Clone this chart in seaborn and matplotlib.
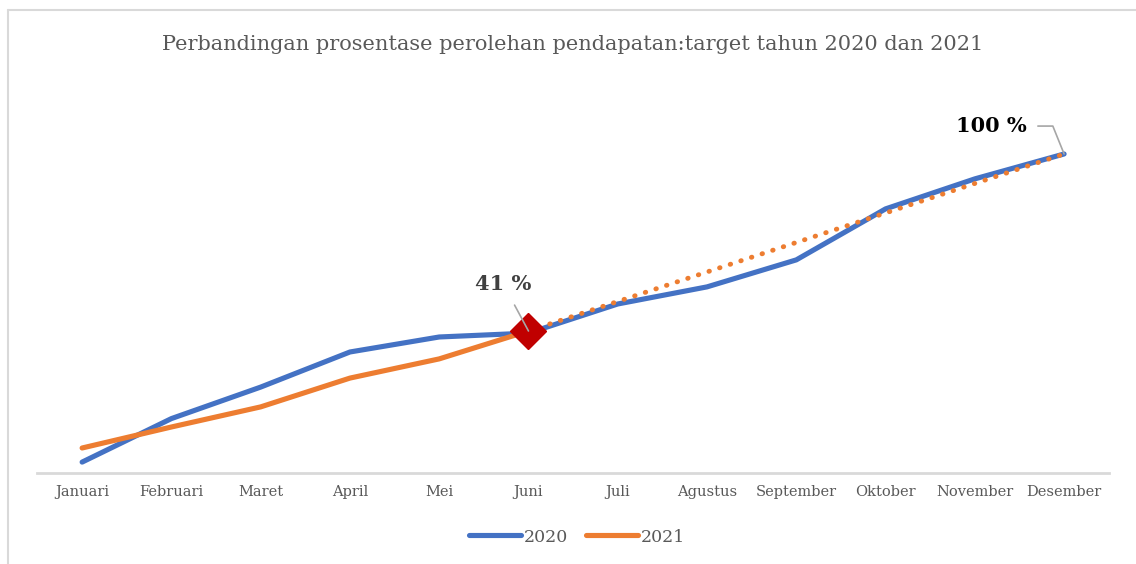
import numpy as np
import pandas as pd
import seaborn as sns
import matplotlib.pyplot as plt
from matplotlib.lines import Line2D

# data (percent of yearly target, cumulative)
months = ["Januari", "Februari", "Maret", "April", "Mei", "Juni", "Juli",
          "Agustus", "September", "Oktober", "November", "Desember"]
val_2020 = [-2.7, 11.8, 22.3, 34.0, 39.0, 40.3, 50.0, 55.7, 64.7, 81.7, 91.7, 100.0]
val_2021 = [2.0, 9.0, 15.7, 25.3, 31.7, 41.0]
proj_months = ["Juni", "Desember"]
proj_2021 = [41.0, 100.0]
title = "Perbandingan prosentase perolehan pendapatan:target tahun 2020 dan 2021"

BLUE = "#4472C4"
ORANGE = "#ED7D31"
RED = "#C00000"
GREY_TXT = "#595959"

sns.set_theme(style="white")
plt.rcParams["font.family"] = ["DejaVu Serif"]

df20 = pd.DataFrame({"pos": np.arange(len(val_2020)), "nilai": val_2020})
df21 = pd.DataFrame({"pos": np.arange(len(val_2021)), "nilai": val_2021})
dfp = pd.DataFrame({"pos": [months.index(m) for m in proj_months], "nilai": proj_2021})

fig = plt.figure(figsize=(11.36, 5.64), dpi=100)
ax = fig.add_axes([0.033, 0.1619, 0.943, 0.6183])

# chart frame (Excel style): only left and top edges are visible
fx, fy = 8 / 1136, 1 - 10 / 564
fig.add_artist(Line2D([fx, fx], [0, fy], transform=fig.transFigure,
                      color="#d9d9d9", lw=1.5))
fig.add_artist(Line2D([fx, 1], [fy, fy], transform=fig.transFigure,
                      color="#d9d9d9", lw=1.5))

sns.lineplot(data=df20, x="pos", y="nilai", ax=ax, color=BLUE, lw=3.7,
             label="2020", solid_capstyle="round")
sns.lineplot(data=dfp, x="pos", y="nilai", ax=ax, color=ORANGE, lw=3.5,
             linestyle=(0, (0.1, 2.2)), dash_capstyle="round", legend=False)
sns.lineplot(data=df21, x="pos", y="nilai", ax=ax, color=ORANGE, lw=3.7,
             label="2021", solid_capstyle="round")

# highlight current month
jun = months.index("Juni")
ax.plot(jun, val_2021[-1], marker="D", ms=18, color=RED, mec=RED, zorder=5)

ax.annotate(f"{val_2021[-1]:.0f} %", xy=(jun, val_2021[-1]),
            xytext=(jun - 0.28, val_2021[-1] + 15.5), ha="center", va="center",
            fontsize=15, fontweight="bold", color="#404040",
            arrowprops=dict(arrowstyle="-", color="#a6a6a6", lw=1.2,
                            shrinkA=6, shrinkB=0), zorder=6)
dec = months.index("Desember")
ax.annotate(f"{val_2020[-1]:.0f} %", xy=(dec, val_2020[-1]),
            xytext=(dec - 0.82, val_2020[-1] + 9.3), ha="center", va="center",
            fontsize=15, fontweight="bold", color="black",
            arrowprops=dict(arrowstyle="-", color="#a6a6a6", lw=1.2,
                            connectionstyle="angle,angleA=0,angleB=112,rad=0",
                            shrinkA=6, shrinkB=0), zorder=6)

ax.set_xlim(-0.5, 11.5)
ax.set_ylim(-6.23, 110)
ax.set_xticks(range(len(months)))
ax.set_xticklabels(months, fontsize=10.5, color=GREY_TXT)
ax.set_yticks([])
ax.tick_params(axis="x", length=0, pad=9)
ax.set_xlabel("")
ax.set_ylabel("")
for s in ["top", "right", "left"]:
    ax.spines[s].set_visible(False)
ax.spines["bottom"].set_color("#d9d9d9")
ax.spines["bottom"].set_linewidth(2)

fig.text(573 / 1136, 1 - 45 / 564, title, ha="center", va="center",
         fontsize=15, color=GREY_TXT)

ax.get_legend().remove()
handles, labels = ax.get_legend_handles_labels()
fig.legend(handles, labels, loc="center", bbox_to_anchor=(577 / 1136, 1 - 537 / 564),
           ncol=2, frameon=False, fontsize=12.5, handlelength=3.0,
           handletextpad=0.15, columnspacing=1.0,
           labelcolor=GREY_TXT)

plt.savefig("out.png", dpi=100)
plt.close()
